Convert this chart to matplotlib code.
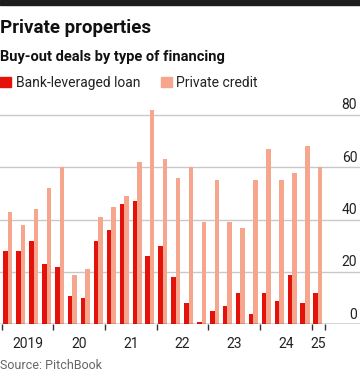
import numpy as np
import matplotlib.pyplot as plt
from matplotlib.patches import Rectangle

# quarterly buy-out deals, 2019 Q1 to 2025 Q1
quarters = ['2019 Q1', '2019 Q2', '2019 Q3', '2019 Q4',
            '2020 Q1', '2020 Q2', '2020 Q3', '2020 Q4',
            '2021 Q1', '2021 Q2', '2021 Q3', '2021 Q4',
            '2022 Q1', '2022 Q2', '2022 Q3', '2022 Q4',
            '2023 Q1', '2023 Q2', '2023 Q3', '2023 Q4',
            '2024 Q1', '2024 Q2', '2024 Q3', '2024 Q4',
            '2025 Q1']
bank_loan = [28, 28, 32, 23, 22, 11, 10, 32, 36, 46, 47, 26,
             30, 18, 8, 1, 5, 7, 12, 4, 12, 9, 19, 8, 12]
private_credit = [43, 38, 44, 52, 60, 19, 21, 41, 45, 49, 62, 82,
                  63, 56, 60, 39, 55, 39, 37, 55, 67, 55, 58, 68, 60]
year_labels = ['2019', '20', '21', '22', '23', '24', '25']
y_ticks = [0, 20, 40, 60, 80]

RED = '#e3120b'
PINK = '#f7a68e'
GRID = '#c9c9c9'

plt.rcParams['font.family'] = ['Roboto', 'DejaVu Sans']

fig = plt.figure(figsize=(3.6, 3.81), dpi=100)
fig.patches.append(Rectangle((0, 381 - 5), 360, 5, transform=None,
                             color='#1d1d1d', zorder=5))
ax = fig.add_axes([0.0, 0.1488, 1.0, 0.5837])

x = np.arange(len(quarters))
w = 0.35
ax.bar(x - 0.2, bank_loan, width=w, color=RED, zorder=3)
ax.bar(x + 0.15, private_credit, width=w, color=PINK, zorder=3)

ax.set_xlim(-0.63, 27.23)
ax.set_ylim(0, 85)

# gridlines and right-side labels sitting on the lines
for v in y_ticks:
  if v == 0:
    ax.axhline(v, color='#333333', lw=1.0, zorder=4)
  else:
    ax.axhline(v, color=GRID, lw=1.0, zorder=1)
  ax.annotate(str(v), xy=(1.0, v), xycoords=('axes fraction', 'data'),
              xytext=(-2, 2), textcoords='offset points',
              ha='right', va='bottom', fontsize=10, color='#222222')

# year boundary ticks
bounds = [-0.5 + 4 * k for k in range(7)] + [24.5]
ax.set_xticks(bounds)
ax.set_xticklabels([])
ax.tick_params(axis='x', length=4.5, width=1.0, color='#333333', direction='out')
ax.tick_params(axis='y', left=False, labelleft=False)

centers = [1.5 + 4 * k for k in range(6)] + [24]
for c, lab in zip(centers, year_labels):
  ax.annotate(lab, xy=(c, 0), xycoords='data', xytext=(0, -9),
              textcoords='offset points', ha='center', va='top',
              fontsize=10, color='#222222')

for s in ax.spines.values():
  s.set_visible(False)

fig.text(0.0, 0.913, 'Private properties', fontsize=13.5, fontweight='bold',
         ha='left', va='baseline', color='#111111')
fig.text(0.0, 0.840, 'Buy-out deals by type of financing', fontsize=10.5,
         fontweight='semibold', ha='left', va='baseline', color='#111111')

fig.patches.append(Rectangle((0, 381 - 87), 11, 10, transform=None, color=RED))
fig.text(16 / 360, 0.7717, 'Bank-leveraged loan', fontsize=10, ha='left',
         va='baseline', color='#222222')
fig.patches.append(Rectangle((161, 381 - 87), 11, 10, transform=None, color=PINK))
fig.text(176 / 360, 0.7717, 'Private credit', fontsize=10, ha='left',
         va='baseline', color='#222222')

fig.text(0.0, 0.0315, 'Source: PitchBook', fontsize=9, ha='left',
         va='baseline', color='#666666')

fig.savefig('out.png', dpi=100)
